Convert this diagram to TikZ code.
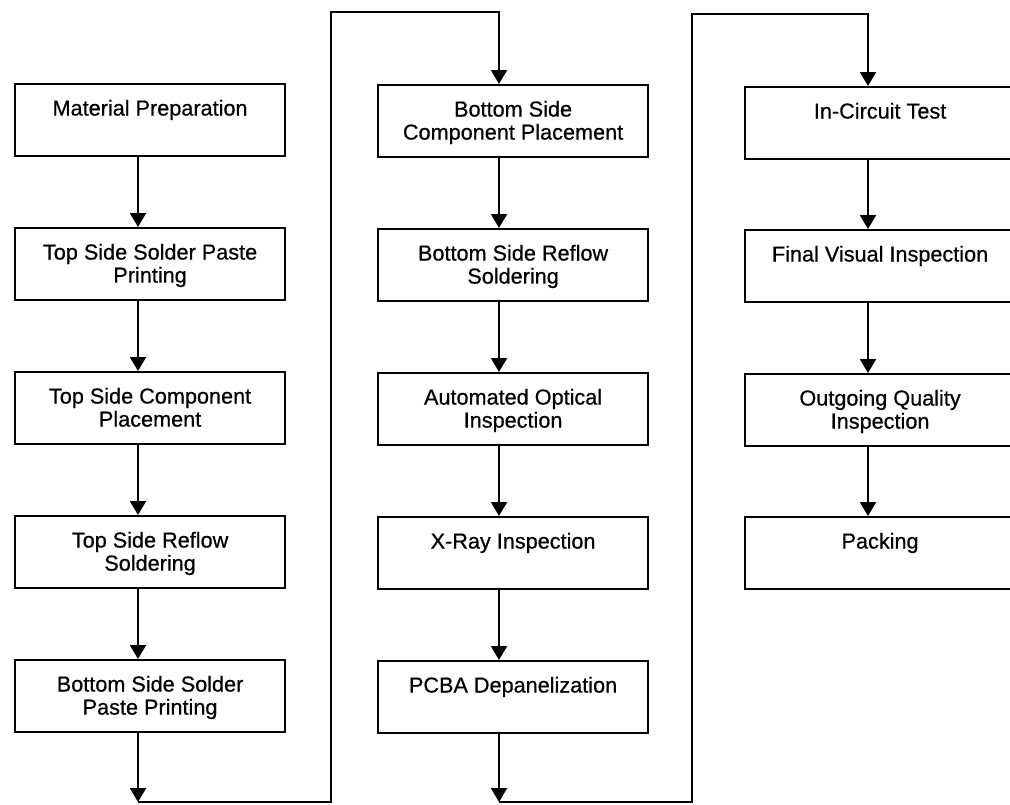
\documentclass[tikz,border=0pt]{standalone}
\usepackage{fontspec}
\setmainfont{Liberation Sans}
\usetikzlibrary{shapes,arrows.meta}
\newcommand{\steptext}[1]{\parbox[c][1.8cm][t]{6.6cm}{\centering\vspace*{10.9pt}\strut#1}}

\begin{document}
\begin{tikzpicture}[x=0.025cm,y=-0.025cm,
    stage/.style={draw,line width=1.5pt,anchor=north west,inner sep=0pt,
      minimum width=6.75cm,minimum height=1.8cm,
      font=\fontsize{15.4pt}{16.4pt}\selectfont\addfontfeatures{FakeBold=0.6}},
    flow/.style={line width=1.5pt,-{Triangle[width=0.4cm,length=0.35cm]}}]

    % Fix the frame
    \useasboundingbox (0,0) rectangle (1010,804);
    \fill [white] (0,0) rectangle (1010,804);
    \clip (0,0) rectangle (1010,804);

    % Arrow columns and loop corners
    \coordinate (c1) at (138,0);
    \coordinate (c2) at (499,0);
    \coordinate (c3) at (868,0);
    \coordinate (b1) at (138,802);
    \coordinate (u1) at (331,12);
    \coordinate (b2) at (499,802);
    \coordinate (u2) at (692,14);

    % First column
    \node [stage] (mp) at (14,83) {\steptext{Material Preparation}};
    \node [stage] (tsp) at (14,227) {\steptext{Top Side Solder Paste\\Printing}};
    \node [stage] (tcp) at (14,371) {\steptext{Top Side Component\\Placement}};
    \node [stage] (trs) at (14,515) {\steptext{Top Side Reflow\\Soldering}};
    \node [stage] (bsp) at (14,659) {\steptext{Bottom Side Solder\\Paste Printing}};

    % Second column
    \node [stage] (bcp) at (377,84) {\steptext{Bottom Side\\Component Placement}};
    \node [stage] (brs) at (377,228) {\steptext{Bottom Side Reflow\\Soldering}};
    \node [stage] (aoi) at (377,372) {\steptext{Automated Optical\\Inspection}};
    \node [stage] (xri) at (377,516) {\steptext{X-Ray Inspection}};
    \node [stage] (dep) at (377,660) {\steptext{PCBA Depanelization}};

    % Third column
    \node [stage] (ict) at (744,86) {\steptext{In-Circuit Test}};
    \node [stage] (fvi) at (744,229) {\steptext{Final Visual Inspection}};
    \node [stage] (oqi) at (744,373) {\steptext{Outgoing Quality\\Inspection}};
    \node [stage] (pck) at (744,516) {\steptext{Packing}};

    % Draw the flow
    \draw [flow] (mp.south -| c1) -- (tsp.north -| c1);
    \draw [flow] (tsp.south -| c1) -- (tcp.north -| c1);
    \draw [flow] (tcp.south -| c1) -- (trs.north -| c1);
    \draw [flow] (trs.south -| c1) -- (bsp.north -| c1);
    \draw [flow] (bsp.south -| c1) -- (b1);
    \draw [flow] (b1) -| (u1) -| (bcp.north -| c2);

    \draw [flow] (bcp.south -| c2) -- (brs.north -| c2);
    \draw [flow] (brs.south -| c2) -- (aoi.north -| c2);
    \draw [flow] (aoi.south -| c2) -- (xri.north -| c2);
    \draw [flow] (xri.south -| c2) -- (dep.north -| c2);
    \draw [flow] (dep.south -| c2) -- (b2);
    \draw [flow] (b2) -| (u2) -| (ict.north -| c3);

    \draw [flow] (ict.south -| c3) -- (fvi.north -| c3);
    \draw [flow] (fvi.south -| c3) -- (oqi.north -| c3);
    \draw [flow] (oqi.south -| c3) -- (pck.north -| c3);

\end{tikzpicture}
\end{document}
